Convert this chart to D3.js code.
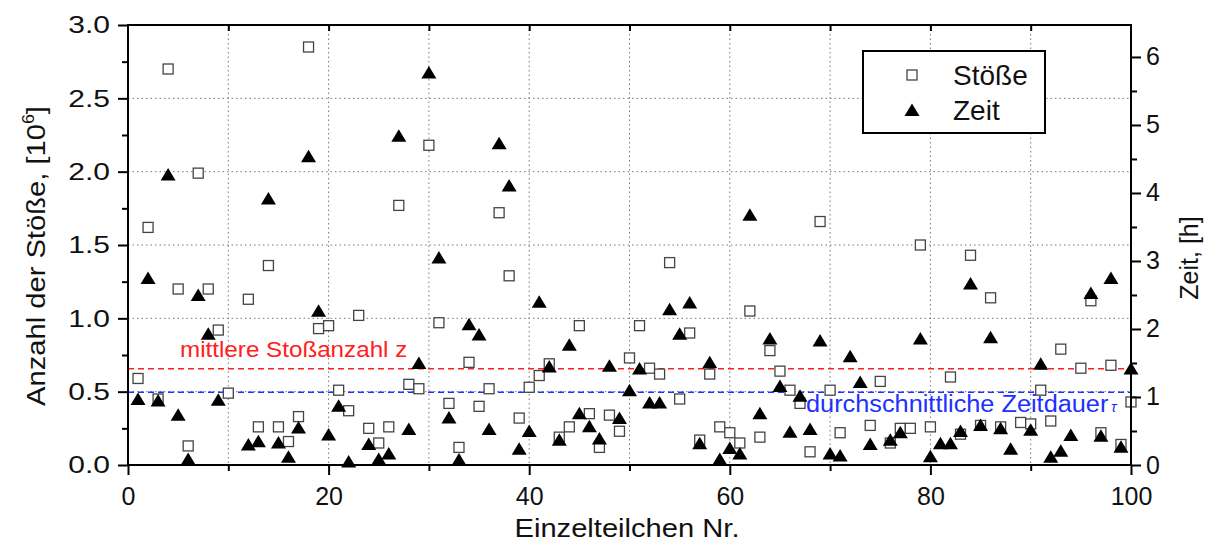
<!DOCTYPE html>
<html>
<head>
<meta charset="utf-8">
<script src="https://cdn.jsdelivr.net/npm/d3@7"></script>
<style>
  body { margin: 0; background: #fff; }
  svg text { font-family: "Liberation Sans", Arial, sans-serif; fill: #111; }
</style>
</head>
<body>
<svg id="chart" width="1211" height="542"></svg>
<script>
// Stöße per particle, in 10^6 (null = not visible in the original)
var stoesse = [0.59, 1.62, 0.45, 2.70, 1.20, 0.13, 1.99, 1.20, 0.92, 0.49,
               null, 1.13, 0.26, 1.36, 0.26, 0.16, 0.33, 2.85, 0.93, 0.95,
               0.51, 0.37, 1.02, 0.25, 0.15, 0.26, 1.77, 0.55, 0.52, 2.18,
               0.97, 0.42, 0.12, 0.70, 0.40, 0.52, 1.72, 1.29, 0.32, 0.53,
               0.61, 0.69, 0.19, 0.26, 0.95, 0.35, 0.12, 0.34, 0.23, 0.73,
               0.95, 0.66, 0.62, 1.38, 0.45, 0.90, 0.17, 0.62, 0.26, 0.22,
               0.15, 1.05, 0.19, 0.78, 0.64, 0.51, 0.42, 0.09, 1.66, 0.51,
               0.22, null, null, 0.27, 0.57, 0.15, 0.25, 0.25, 1.50, 0.26,
               null, 0.60, 0.21, 1.43, 0.27, 1.14, 0.26, null, 0.29, 0.28,
               0.51, 0.30, 0.79, null, 0.66, 1.12, 0.22, 0.68, 0.14, 0.43];

// Zeit per particle, in hours
var zeit = [0.97, 2.75, 0.95, 4.27, 0.74, 0.09, 2.50, 1.93, 0.96, null,
            null, 0.30, 0.35, 3.92, 0.33, 0.12, 0.55, 4.54, 2.27, 0.45,
            0.87, 0.05, null, 0.31, 0.09, 0.17, 4.84, 0.53, 1.50, 5.77,
            3.05, 0.70, 0.08, 2.07, 1.92, 0.53, 4.73, 4.11, 0.24, 0.50,
            2.40, 1.45, 0.37, 1.77, 0.76, 0.57, 0.39, 1.46, 0.69, 1.10,
            1.42, 0.92, 0.92, 2.29, 1.93, 2.39, 0.32, 1.51, 0.09, 0.25,
            0.17, 3.68, 0.76, 1.86, 1.16, 0.49, 1.02, 0.53, 1.83, 0.17,
            0.14, 1.60, 1.22, 0.31, null, 0.37, 0.48, null, 1.86, 0.13,
            0.32, 0.32, 0.50, 2.67, 0.59, 1.88, 0.54, 0.24, null, 0.52,
            1.49, 0.12, 0.21, 0.44, null, 2.53, 0.43, 2.75, 0.27, 1.42];

var xTicks = [0, 20, 40, 60, 80, 100];
var xMinorTicks = [10, 30, 50, 70, 90];
var leftTicks = [0, 0.5, 1, 1.5, 2, 2.5, 3];
var leftMinorTicks = [0.25, 0.75, 1.25, 1.75, 2.25, 2.75];
var rightTicks = [0, 1, 2, 3, 4, 5, 6];
var rightMinorTicks = [0.5, 1.5, 2.5, 3.5, 4.5, 5.5];

var mittlereStossanzahl = 0.656;   // left axis units
var mittlereZeitdauer = 1.07;      // right axis units

var svg = d3.select("#chart");
var x = d3.scaleLinear().domain([0, 100]).range([128, 1131]);
var yL = d3.scaleLinear().domain([0, 3]).range([465, 25]);
var yR = d3.scaleLinear().domain([0, 6.47]).range([465, 25]);

/*
 * widen text, the original font runs wider than Arial
 */
function stretch(sel, f) {
    sel.each(function () {
        var w = this.getComputedTextLength();
        d3.select(this).attr("textLength", w * f).attr("lengthAdjust", "spacingAndGlyphs");
    });
}

// grid
var grid = svg.append("g").attr("class", "grid")
    .attr("stroke", "#777").attr("stroke-width", 1).attr("stroke-dasharray", "1.5,3");
grid.selectAll(".vgrid")
    .data(d3.range(10, 100, 10))
    .enter().append("line")
    .attr("x1", function (d) { return x(d); }).attr("x2", function (d) { return x(d); })
    .attr("y1", yL(3)).attr("y2", yL(0));
grid.selectAll(".hgrid")
    .data([0.5, 1, 1.5, 2, 2.5])
    .enter().append("line")
    .attr("x1", x(0)).attr("x2", x(100))
    .attr("y1", function (d) { return yL(d); }).attr("y2", function (d) { return yL(d); });

// reference lines
svg.append("line")
    .attr("x1", x(0)).attr("x2", x(100))
    .attr("y1", yL(mittlereStossanzahl)).attr("y2", yL(mittlereStossanzahl))
    .attr("stroke", "#ff2020").attr("stroke-width", 1.5).attr("stroke-dasharray", "6,4");
svg.append("line")
    .attr("x1", x(0)).attr("x2", x(100))
    .attr("y1", yR(mittlereZeitdauer)).attr("y2", yR(mittlereZeitdauer))
    .attr("stroke", "#2030ff").attr("stroke-width", 1.5).attr("stroke-dasharray", "6,4");

// markers
var idx = d3.range(1, 101);
svg.append("g")
    .selectAll(".sq")
    .data(idx.filter(function (d) { return stoesse[d - 1] !== null; }))
    .enter().append("rect")
    .attr("class", "sq")
    .attr("x", function (d) { return x(d) - 5; })
    .attr("y", function (d) { return yL(stoesse[d - 1]) - 5; })
    .attr("width", 10).attr("height", 10)
    .attr("fill", "#fff").attr("stroke", "#444").attr("stroke-width", 1.3);

svg.append("g")
    .selectAll(".tri")
    .data(idx.filter(function (d) { return zeit[d - 1] !== null; }))
    .enter().append("path")
    .attr("class", "tri")
    .attr("d", "M0,-6.5L7.5,6L-7.5,6Z")
    .attr("transform", function (d) { return "translate(" + x(d) + "," + yR(zeit[d - 1]) + ")"; })
    .attr("fill", "#000");

// axes
function styleAxis(g, size) {
    g.select(".domain").remove();
    g.selectAll("line").attr("stroke", "#000").attr("stroke-width", 2);
    g.selectAll("text").style("font-size", size + "px").attr("fill", "#111");
}

var gl = svg.append("g").attr("transform", "translate(" + x(0) + ",0)")
    .call(d3.axisLeft(yL).tickValues(leftTicks).tickSize(10).tickPadding(8).tickFormat(d3.format(".1f")));
styleAxis(gl, 24);
stretch(gl.selectAll("text"), 1.25);
svg.append("g").attr("transform", "translate(" + x(0) + ",0)")
    .call(d3.axisLeft(yL).tickValues(leftMinorTicks).tickSize(6).tickFormat(""))
    .call(styleAxis, 24);

var gr = svg.append("g").attr("transform", "translate(" + x(100) + ",0)")
    .call(d3.axisRight(yR).tickValues(rightTicks).tickSize(10).tickPadding(5).tickFormat(d3.format("d")));
styleAxis(gr, 25);
svg.append("g").attr("transform", "translate(" + x(100) + ",0)")
    .call(d3.axisRight(yR).tickValues(rightMinorTicks).tickSize(6).tickFormat(""))
    .call(styleAxis, 25);

var gb = svg.append("g").attr("transform", "translate(0," + yL(0) + ")")
    .call(d3.axisBottom(x).tickValues(xTicks).tickSize(10).tickPadding(12).tickFormat(d3.format("d")));
styleAxis(gb, 25);
svg.append("g").attr("transform", "translate(0," + yL(0) + ")")
    .call(d3.axisBottom(x).tickValues(xMinorTicks).tickSize(6).tickFormat(""))
    .call(styleAxis, 25);

// top ticks point inward
svg.append("g").attr("transform", "translate(0," + yL(3) + ")")
    .call(d3.axisBottom(x).tickValues(d3.range(10, 100, 10)).tickSize(6).tickFormat(""))
    .call(styleAxis, 25);

// frame
svg.append("rect")
    .attr("x", x(0)).attr("y", yL(3))
    .attr("width", x(100) - x(0)).attr("height", yL(0) - yL(3))
    .attr("fill", "none").attr("stroke", "#000").attr("stroke-width", 2);

// annotations
var red = svg.append("text")
    .attr("x", 180).attr("y", 357)
    .style("font-size", "22px").style("fill", "#ff2020")
    .text("mittlere Stoßanzahl z");
stretch(red, 1.1);
var blue = svg.append("text")
    .attr("x", 806).attr("y", 412)
    .style("font-size", "23px").style("fill", "#2030ff")
    .text("durchschnittliche Zeitdauer");
stretch(blue, 1.1);
svg.append("text")
    .attr("x", 1111).attr("y", 412)
    .style("font-size", "15px").style("font-style", "italic").style("fill", "#2030ff")
    .text("τ");

// axis titles
var tl = svg.append("text")
    .attr("transform", "translate(45,256) rotate(-90)")
    .attr("text-anchor", "middle")
    .style("font-size", "26px");
tl.append("tspan").text("Anzahl der Stöße, [10");
tl.append("tspan").attr("dy", -11).style("font-size", "16px").text("6");
tl.append("tspan").attr("dy", 11).text("]");
tl.attr("textLength", 300).attr("lengthAdjust", "spacingAndGlyphs");

svg.append("text")
    .attr("transform", "translate(1198,258) rotate(-90)")
    .attr("text-anchor", "middle")
    .style("font-size", "25px")
    .text("Zeit, [h]");

var xt = svg.append("text")
    .attr("x", 627).attr("y", 537)
    .attr("text-anchor", "middle")
    .style("font-size", "26px")
    .text("Einzelteilchen Nr.");
stretch(xt, 1.12);

// legend
var lg = svg.append("g");
lg.append("rect")
    .attr("x", 863).attr("y", 51).attr("width", 182).attr("height", 82)
    .attr("fill", "#fff").attr("stroke", "#000").attr("stroke-width", 2);
lg.append("rect")
    .attr("x", 907).attr("y", 70).attr("width", 10).attr("height", 10)
    .attr("fill", "#fff").attr("stroke", "#444").attr("stroke-width", 1.3);
lg.append("path")
    .attr("d", "M0,-6.5L7.5,6L-7.5,6Z")
    .attr("transform", "translate(912,110)")
    .attr("fill", "#000");
lg.append("text").attr("x", 953).attr("y", 85).style("font-size", "28px").text("Stöße");
lg.append("text").attr("x", 953).attr("y", 120).style("font-size", "28px").text("Zeit");
</script>
</body>
</html>
